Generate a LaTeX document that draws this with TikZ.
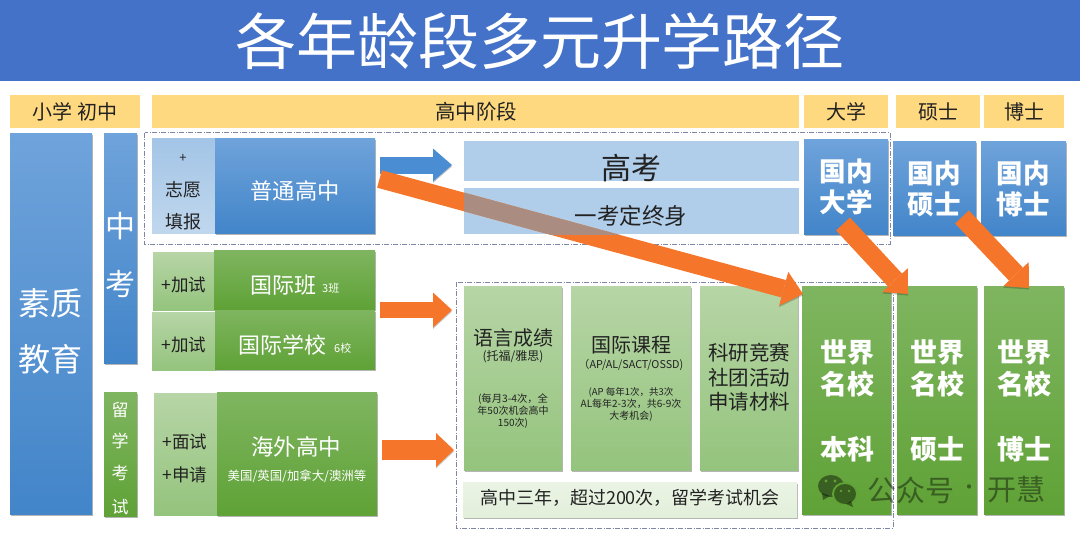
\documentclass[tikz,border=0pt]{standalone}
\usepackage{fontspec}
\setmainfont{Noto Sans CJK SC}
\usetikzlibrary{shadows,arrows.meta}
\definecolor{gold}{HTML}{FFD97F}
\definecolor{titleblue}{HTML}{4472C9}
\definecolor{blueA}{HTML}{6FA3DB}
\definecolor{blueB}{HTML}{4285C9}
\definecolor{greenA}{HTML}{7FB560}
\definecolor{greenB}{HTML}{5FA236}
\definecolor{paleblue}{HTML}{B0CDE9}
\definecolor{lgreenA}{HTML}{B7D5A6}
\definecolor{lgreenB}{HTML}{94C47D}
\definecolor{palegreen}{HTML}{E2EFDA}
\definecolor{dashcol}{HTML}{7F86A6}
\definecolor{arroworange}{HTML}{F5762A}
\definecolor{arrowblue}{HTML}{4A8DD2}
\definecolor{taupe}{HTML}{AB8C80}
\definecolor{inkdark}{HTML}{222222}
\newcommand{\fs}[1]{\fontsize{#1pt}{#1pt}\selectfont}
% a rectangle given by its two corners, in pixel units
\newcommand{\panel}[6]{%
  \pgfmathsetmacro\pw{#5-#3}\pgfmathsetmacro\ph{#6-#4}%
  \node[#2,minimum width=\pw pt,minimum height=\ph pt] (#1) at ({(#3+#5)/2},{(#4+#6)/2}) {};}
\tikzset{
  x=1pt,y=-1pt,
  base/.style={inner sep=0pt,outer sep=0pt,draw=none},
  softshadow/.style={drop shadow={shadow xshift=0.5pt,shadow yshift=-2pt,opacity=.38,fill=black!75}},
  header/.style={base,fill=gold},
  bluebox/.style={base,top color=blueA,bottom color=blueB,softshadow},
  greenbox/.style={base,top color=greenA,bottom color=greenB,softshadow},
  lightblue/.style={base,top color=paleblue!80!blueA,bottom color=paleblue!80},
  lightgreen/.style={base,top color=lgreenA,bottom color=lgreenB},
  lightgreenS/.style={lightgreen,softshadow},
  paleband/.style={base,fill=paleblue},
  barpale/.style={base,top color=palegreen!70,bottom color=palegreen,softshadow},
  frame/.style={draw=dashcol,line width=.7pt,dash pattern=on 5pt off 1.5pt on 1pt off 1.5pt},
  ink/.style={inner sep=0pt,text=inkdark,align=center},
  lighttext/.style={inner sep=0pt,text=white,align=center},
  lightbold/.style={lighttext,font=\bfseries},
  blockarrow/.style n args={4}{line width=#2pt,draw=#1,
     -{Triangle[length=#4pt,width=#3pt,line width=0pt,fill=#1]},
     preaction={draw=black,opacity=.22,transform canvas={yshift=-1.5pt},
     -{Triangle[length=#4pt,width=#3pt,line width=0pt,fill=black]}}},
  wmark/.style={fill=black,fill opacity=.42,draw=none},
  wmarktext/.style={inner sep=0pt,text=black,text opacity=.42}
}
\begin{document}
\begin{tikzpicture}
\useasboundingbox (0,0) rectangle (1080,533);
\fill[white] (0,0) rectangle (1080,533);

% title band
\panel{titlebar}{base,fill=titleblue}{0}{0}{1080}{81}
\node[lighttext] (title) at (540,41) {\fs{61}各年龄段多元升学路径};

% column headers
\panel{hPrimary}{header}{10}{95}{140}{128}
\panel{hSenior}{header}{152}{95}{799}{128}
\panel{hUni}{header}{804}{95}{888}{128}
\panel{hMaster}{header}{896}{95}{980}{128}
\panel{hPhd}{header}{984}{95}{1064}{128}
\node[ink] (tPrimary) at (75,112) {\fs{20}小学 初中};
\node[ink] (tSenior) at (476,112) {\fs{20.5}高中阶段};
\node[ink] (tUni) at (846,112) {\fs{20}大学};
\node[ink] (tMaster) at (938,112) {\fs{20}硕士};
\node[ink] (tPhd) at (1024,112) {\fs{20}博士};

% dotted frames round the two routes
\draw[frame] (144.5,132.7) rectangle (890,244);
\draw[frame] (456,282) rectangle (893,528);

% left columns
\panel{quality}{bluebox}{10}{133}{92}{514}
\panel{zhongkao}{bluebox}{104}{133}{137}{363}
\panel{abroadExam}{greenbox}{104}{392}{137}{516}
\node[lighttext] (q1) at (51,303) {\fs{32}素质};
\node[lighttext] (q2) at (51,359) {\fs{32}教育};
\node[lighttext] (z1) at (120,226) {\fs{30}中};
\node[lighttext] (z2) at (120,284) {\fs{30}考};
\node[lighttext] (a1) at (120,410) {\fs{17}留};
\node[lighttext] (a2) at (120,441) {\fs{17}学};
\node[lighttext] (a3) at (120,473) {\fs{17}考};
\node[lighttext] (a4) at (120,507) {\fs{17}试};

% senior high entry routes
\panel{zhiyuan}{lightblue}{152}{138}{215}{233}
\panel{normal}{bluebox}{215}{138}{375}{233}
\node[ink] (p0) at (183,158) {\fs{13}+};
\node[ink] (p1) at (183,190) {\fs{18}志愿};
\node[ink] (p2) at (183,222) {\fs{18}填报};
\node[lighttext] (tNormal) at (295,191) {\fs{22.3}普通高中};

\panel{jiashiA}{lightgreen}{153}{252}{215}{310}
\panel{jiashiB}{lightgreen}{152}{312}{216}{370}
\panel{intlClass}{greenbox}{214}{250}{375}{309}
\panel{intlSchool}{greenbox}{215}{310}{375}{369}
\node[ink] (j1) at (184,285) {\fs{17.5}+加试};
\node[ink] (j2) at (184,345) {\fs{17.5}+加试};
\node[lighttext,anchor=west] (tClass) at (250,285) {\fs{22}国际班};
\node[lighttext,anchor=west] (nClass) at (322,288) {\fs{11}3班};
\node[lighttext,anchor=west] (tSchool) at (238,345) {\fs{22}国际学校};
\node[lighttext,anchor=west] (nSchool) at (334,348) {\fs{11}6校};

\panel{interview}{lightgreen}{154}{393}{218}{515}
\panel{overseas}{greenbox}{217}{392}{377}{515}
\node[ink] (i1) at (185,442) {\fs{17.5}+面试};
\node[ink] (i2) at (185,475) {\fs{17.5}+申请};
\node[lighttext] (tOverseas) at (296,447) {\fs{22.5}海外高中};
\node[lighttext] (sOverseas) at (297,476) {\fs{12.4}美国/英国/加拿大/澳洲等};

% gaokao bands
\panel{gaokao}{paleband}{464}{141}{799}{181}
\panel{once}{paleband}{464}{188}{799}{234}
\node[ink] (tGaokao) at (631,168) {\fs{30}高考};

% overseas exam panels
\panel{lang}{lightgreenS}{464}{286}{562}{470}
\panel{course}{lightgreenS}{571}{286}{691}{470}
\panel{research}{lightgreenS}{700}{286}{798}{470}
\panel{band}{barpale}{463}{482}{797}{517}
\node[ink] (l1) at (513,338) {\fs{20}语言成绩};
\node[ink] (l2) at (513,357) {\fs{12}(托福/雅思)};
\node[ink] (l3) at (513,411) {\fs{10.3}\setlength{\baselineskip}{12pt}(每月3-4次，全\\年50次机会高中\\150次)};
\node[ink] (c1) at (631,345) {\fs{20}国际课程};
\node[ink] (c2) at (631,365) {\fs{10.8}（AP/AL/SACT/OSSD)};
\node[ink] (c3) at (631,404) {\fs{9.5}\setlength{\baselineskip}{12pt}(AP 每年1次，共3次\\AL每年2-3次，共6-9次\\大考机会)};
\node[ink] (r1) at (749,353) {\fs{20.5}科研竞赛};
\node[ink] (r2) at (749,378) {\fs{20.5}社团活动};
\node[ink] (r3) at (749,402) {\fs{20.5}申请材料};
\node[ink] (tBand) at (630,498) {\fs{18}高中三年，超过200次，留学考试机会};

% degree columns
\panel{dUni}{bluebox}{804}{139}{888}{234}
\panel{dMaster}{bluebox}{893}{141}{976}{235}
\panel{dPhd}{bluebox}{981}{141}{1066}{235}
\panel{wUni}{greenbox}{802}{286}{891}{514}
\panel{wMaster}{greenbox}{897}{286}{977}{514}
\panel{wPhd}{greenbox}{984}{286}{1064}{514}
\node[lightbold] (du1) at (846,171) {\fs{26.5}国内};
\node[lightbold] (du2) at (846,202) {\fs{26.5}大学};
\node[lightbold] (dm1) at (934,173) {\fs{26.5}国内};
\node[lightbold] (dm2) at (934,204) {\fs{26.5}硕士};
\node[lightbold] (dp1) at (1023,173) {\fs{26.5}国内};
\node[lightbold] (dp2) at (1023,204) {\fs{26.5}博士};
\node[lightbold] (wu1) at (847,352) {\fs{27}世界};
\node[lightbold] (wu2) at (847,384) {\fs{27}名校};
\node[lightbold] (wu3) at (847,449) {\fs{27}本科};
\node[lightbold] (wm1) at (937,352) {\fs{27}世界};
\node[lightbold] (wm2) at (937,384) {\fs{27}名校};
\node[lightbold] (wm3) at (937,449) {\fs{27}硕士};
\node[lightbold] (wp1) at (1024,352) {\fs{27}世界};
\node[lightbold] (wp2) at (1024,384) {\fs{27}名校};
\node[lightbold] (wp3) at (1024,449) {\fs{27}博士};

% block arrows
\coordinate (sA) at (380,165); \coordinate (eA) at (452,165);
\coordinate (sB) at (380,310); \coordinate (eB) at (452,310);
\coordinate (sC) at (382,450); \coordinate (eC) at (454,450);
\coordinate (sD) at (379.5,179); \coordinate (eD) at (803,294);
\coordinate (sE) at (843,224); \coordinate (eE) at (908,294);
\coordinate (sF) at (962,217); \coordinate (eF) at (1029,288);
\draw[blockarrow={arrowblue}{17}{33}{19}] (sA) -- (eA);
\draw[blockarrow={arroworange}{16}{35}{19}] (sB) -- (eB);
\draw[blockarrow={arroworange}{20}{34}{18}] (sC) -- (eC);
\draw[blockarrow={arroworange}{18}{35}{20}] (sD) -- (eD);
\draw[blockarrow={arroworange}{19}{35}{19}] (sE) -- (eE);
\draw[blockarrow={arroworange}{19}{35}{19}] (sF) -- (eF);

% the long arrow runs behind the translucent lower band
\begin{scope}
  \clip (once.north west) rectangle (once.south east);
  \draw[line width=18pt,draw=taupe] (sD) -- (eD);
\end{scope}
\node[ink] (tOnce) at (631,216) {\fs{22.5}一考定终身};

% account mark, lower right
\begin{scope}
  \fill[wmark] (831,486) ellipse (13 and 11);
  \fill[wmark] (822,493) -- (823,500) -- (830,496) -- cycle;
  \fill[greenB] (845,494) ellipse (13 and 12);
  \fill[wmark] (845,494) ellipse (11 and 10);
  \fill[wmark] (851,501) -- (853,507) -- (846,504) -- cycle;
  \fill[greenB] (826,481) circle (1.6) (835,481) circle (1.6) (841,491) circle (1.4) (849,491) circle (1.4);
\end{scope}
\node[wmarktext] (markA) at (911,490) {\fs{29}公众号};
\node[wmarktext] (markB) at (969,490) {\fs{20}·};
\node[wmarktext] (markC) at (1016,490) {\fs{29}开慧};
\end{tikzpicture}
\end{document}
